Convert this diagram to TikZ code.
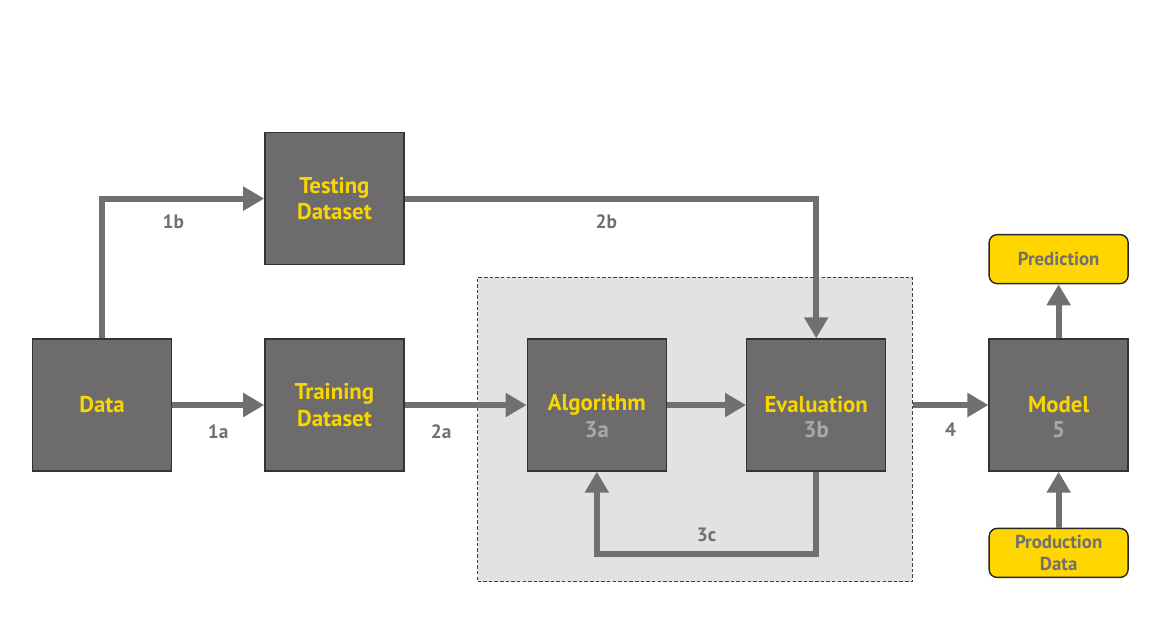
\documentclass[tikz,border=0pt]{standalone}
\usepackage{fontspec}
\setmainfont{PT Sans}
\usetikzlibrary{positioning, arrows.meta, fit, backgrounds}
\definecolor{boxgray}{RGB}{109,107,108}
\definecolor{linegray}{RGB}{112,112,112}
\definecolor{textyellow}{RGB}{250,214,0}
\definecolor{subgray}{RGB}{168,168,168}
\definecolor{stagegray}{RGB}{227,226,227}
\definecolor{boxyellow}{RGB}{255,214,0}

\begin{document}
\begin{tikzpicture}[
    block/.style={rectangle, draw=black!80, line width=0.8pt, fill=boxgray, minimum width=2.78cm, minimum height=2.64cm, align=center, text=textyellow, font=\fontsize{13}{15}\selectfont\bfseries},
    ioblock/.style={rectangle, rounded corners=0.16cm, draw=black!85, line width=0.8pt, fill=boxyellow, minimum width=2.78cm, minimum height=0.98cm, align=center, text=linegray, font=\fontsize{10.7}{13}\selectfont\bfseries},
    stepnum/.style={text=subgray, font=\fontsize{13}{15}\selectfont\bfseries},
    tag/.style={text=linegray, font=\fontsize{11}{13}\selectfont\bfseries},
    flow/.style={line width=0.12cm, draw=linegray, -{Triangle[length=0.42cm, width=0.46cm]}}
]
\useasboundingbox (0,0) rectangle (23.5,-12.34);

% data and the two datasets
\node[block] (data) at (2.04,-8.10) {Data};
\node[block, right=1.84cm of data] (train) {Training\\Dataset};
\node[block, above=1.46cm of train] (test) {Testing\\Dataset};

% training stage
\node[block, right=2.44cm of train] (alg) {Algorithm};
\node[stepnum] (alg_no) at ([yshift=-0.5cm]alg.center) {3a};
\node[block, right=1.58cm of alg] (eval) {Evaluation};
\node[stepnum] (eval_no) at ([yshift=-0.5cm]eval.center) {3b};

\begin{scope}[on background layer]
\node[fit={([xshift=-0.98cm, yshift=1.22cm]alg.north west) ([xshift=0.52cm, yshift=-2.2cm]eval.south east)}, inner sep=0pt, fill=stagegray, draw=black!75, line width=0.6pt, dash pattern=on 2pt off 1.2pt] (stage) {};
\end{scope}

% model with its input and output
\node[block, right=2.04cm of eval] (model) {Model};
\node[stepnum] (model_no) at ([yshift=-0.5cm]model.center) {5};
\node[ioblock, above=1.08cm of model] (pred) {Prediction};
\node[ioblock, below=1.12cm of model] (prod) {Production\\Data};

% arrows
\draw[flow] (data.east) -- (train.west) node[tag, midway, yshift=-0.54cm] (l1a) {1a};
\draw[flow] (data.north) |- (test.west) node[tag, pos=0.72, yshift=-0.46cm] (l1b) {1b};
\draw[flow] (train.east) -- (alg.west) node[tag, pos=0.3, yshift=-0.54cm] (l2a) {2a};
\draw[flow] (test.east) -| (eval.north) node[tag, pos=0.245, yshift=-0.46cm] (l2b) {2b};
\draw[flow] (alg.east) -- (eval.west);
\draw[flow] (eval.south) -- ++(0,-1.64) -| (alg.south) node[tag, pos=0.25, yshift=0.38cm] (l3c) {3c};
\draw[flow] (stage.east |- model.west) -- (model.west) node[tag, midway, yshift=-0.5cm] (l4) {4};
\draw[flow] (model.north) -- (pred.south);
\draw[flow] (prod.north) -- (model.south);

\end{tikzpicture}
\end{document}
